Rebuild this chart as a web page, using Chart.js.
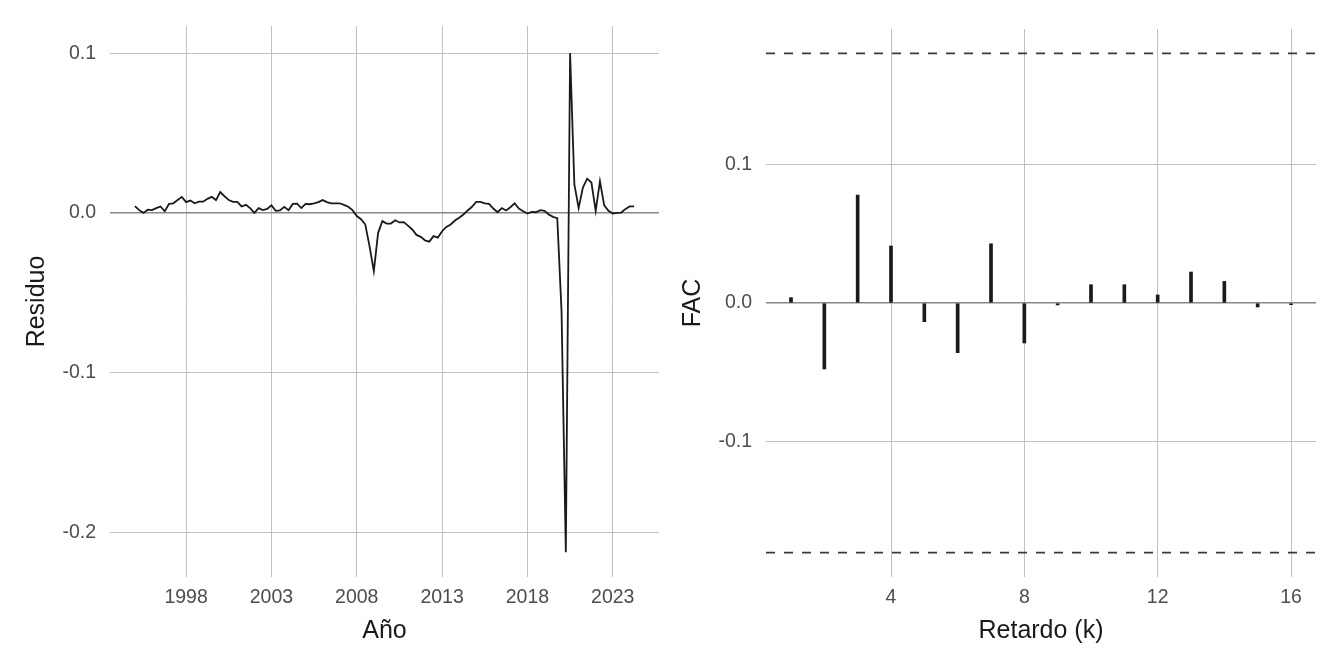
<!DOCTYPE html>
<html>
<head>
<meta charset="utf-8">
<script src="https://cdn.jsdelivr.net/npm/chart.js@4.4.1/dist/chart.umd.min.js"></script>
<style>
  body { margin: 0; background: #ffffff; }
  .panel { position: absolute; top: 0; width: 672px; height: 672px; }
</style>
</head>
<body>
<div class="panel" style="left:0"><canvas id="residuos" width="672" height="672"></canvas></div>
<div class="panel" style="left:672px"><canvas id="fac" width="672" height="672"></canvas></div>
<script>
// residuos trimestrales, desde 1995 T1
var inicio = 1995;
var residuo = [
  0.0042, 0.0017, 0.0000, 0.0020, 0.0017, 0.0030, 0.0040, 0.0010, 0.0056, 0.0060,
  0.0080, 0.0100, 0.0067, 0.0077, 0.0060, 0.0070, 0.0070, 0.0088, 0.0100, 0.0080,
  0.0130, 0.0104, 0.0080, 0.0069, 0.0069, 0.0040, 0.0050, 0.0030, 0.0000, 0.0030,
  0.0017, 0.0025, 0.0048, 0.0013, 0.0015, 0.0038, 0.0017, 0.0056, 0.0058, 0.0030,
  0.0056, 0.0054, 0.0060, 0.0067, 0.0080, 0.0067, 0.0060, 0.0060, 0.0060, 0.0050,
  0.0038, 0.0017, -0.0020, -0.0040, -0.0073, -0.0210, -0.0365, -0.0125, -0.0052, -0.0067,
  -0.0067, -0.0046, -0.0060, -0.0058, -0.0080, -0.0104, -0.0138, -0.0150, -0.0173, -0.0180,
  -0.0146, -0.0155, -0.0115, -0.0088, -0.0073, -0.0048, -0.0030, -0.0010, 0.0015, 0.0038,
  0.0069, 0.0069, 0.0060, 0.0056, 0.0027, 0.0004, 0.0030, 0.0015, 0.0035, 0.0060,
  0.0027, 0.0010, -0.0004, 0.0006, 0.0004, 0.0017, 0.0013, -0.0010, -0.0025, -0.0033,
  -0.0620, -0.2125, 0.1000, 0.0180, 0.0030, 0.0158, 0.0214, 0.0190, 0.0013, 0.0198,
  0.0047, 0.0013, -0.0004, 0.0000, 0.0002, 0.0025, 0.0040, 0.0040
];
var anios = [1998, 2003, 2008, 2013, 2018, 2023];
var ticksResiduo = [-0.2, -0.1, 0.0, 0.1];

// funcion de autocorrelacion
var retardos = [1, 2, 3, 4, 5, 6, 7, 8, 9, 10, 11, 12, 13, 14, 15, 16];
var fac = [0.0039, -0.0477, 0.0780, 0.0412, -0.0135, -0.0359, 0.0428, -0.0289,
           -0.0014, 0.0132, 0.0132, 0.0058, 0.0224, 0.0156, -0.0029, -0.0012];
var limite = 0.1804;
var ticksRetardo = [4, 8, 12, 16];
var ticksFac = [-0.1, 0.0, 0.1];

var fuente = '"Liberation Sans", Arial, Helvetica, sans-serif';
var gris = '#c0c0c0';
var grisCero = '#888888';
var tamTick = 19.5;
var tamTitulo = 25;

function gridCero(ctx) {
    return ctx.tick && ctx.tick.value === 0 ? grisCero : gris;
}
function anchoCero(ctx) {
    return ctx.tick && ctx.tick.value === 0 ? 1.5 : 1;
}
function fijarTicks(lista) {
    return function (scale) {
        scale.ticks = lista.map(v => ({ value: v }));
    };
}

function crearResiduos() {
    var ctx = document.getElementById('residuos').getContext('2d');
    new Chart(ctx, {
        type: 'line',
        data: {
            datasets: [{
                data: residuo.map((r, i) => ({ x: inicio + i / 4, y: r })),
                borderColor: '#1a1a1a',
                borderWidth: 1.8,
                pointRadius: 0,
                tension: 0
            }]
        },
        options: {
            responsive: false,
            animation: false,
            layout: { padding: { top: 26, right: 13, bottom: 0, left: 0 } },
            plugins: { legend: { display: false }, tooltip: { enabled: false } },
            scales: {
                x: {
                    type: 'linear',
                    min: 1993.54,
                    max: 2025.71,
                    afterBuildTicks: fijarTicks(anios),
                    afterFit: function (s) { s.height = 95; },
                    grid: { color: gris, lineWidth: 1, drawTicks: false },
                    border: { display: false },
                    ticks: { padding: 9, color: '#4d4d4d', font: { family: fuente, size: tamTick }, maxRotation: 0,
                             callback: v => String(v) },
                    title: { display: true, text: 'Año', color: '#1a1a1a', font: { family: fuente, size: tamTitulo },
                             padding: { top: 0, bottom: 26 } }
                },
                y: {
                    min: -0.228,
                    max: 0.117,
                    afterBuildTicks: fijarTicks(ticksResiduo),
                    afterFit: function (s) { s.width = 110; },
                    grid: { color: gridCero, lineWidth: anchoCero, drawTicks: false },
                    border: { display: false },
                    ticks: { padding: 14, color: '#4d4d4d', font: { family: fuente, size: tamTick },
                             callback: v => v.toFixed(1) },
                    title: { display: true, text: 'Residuo', color: '#1a1a1a', font: { family: fuente, size: tamTitulo },
                             padding: { top: 22, bottom: 0 } }
                }
            }
        }
    });
}

function crearFac() {
    var ctx = document.getElementById('fac').getContext('2d');
    var xMin = 0.25, xMax = 16.75;
    new Chart(ctx, {
        type: 'bar',
        data: {
            datasets: [{
                type: 'line',
                data: [{ x: xMin, y: limite }, { x: xMax, y: limite }],
                borderColor: '#3a3a3a',
                borderWidth: 1.6,
                borderDash: [9, 9],
                pointRadius: 0
            }, {
                type: 'line',
                data: [{ x: xMin, y: -limite }, { x: xMax, y: -limite }],
                borderColor: '#3a3a3a',
                borderWidth: 1.6,
                borderDash: [9, 9],
                pointRadius: 0
            }, {
                type: 'bar',
                data: retardos.map((k, i) => ({ x: k, y: fac[i] })),
                backgroundColor: '#1a1a1a',
                barThickness: 3
            }]
        },
        options: {
            responsive: false,
            animation: false,
            layout: { padding: { top: 29, right: 28, bottom: 0, left: 0 } },
            plugins: { legend: { display: false }, tooltip: { enabled: false } },
            scales: {
                x: {
                    type: 'linear',
                    min: xMin,
                    max: xMax,
                    offset: false,
                    afterBuildTicks: fijarTicks(ticksRetardo),
                    afterFit: function (s) { s.height = 95; },
                    grid: { color: gris, lineWidth: 1, drawTicks: false, offset: false },
                    border: { display: false },
                    ticks: { padding: 9, color: '#4d4d4d', font: { family: fuente, size: tamTick }, maxRotation: 0 },
                    title: { display: true, text: 'Retardo (k)', color: '#1a1a1a', font: { family: fuente, size: tamTitulo },
                             padding: { top: 0, bottom: 26 } }
                },
                y: {
                    min: -0.198,
                    max: 0.198,
                    afterBuildTicks: fijarTicks(ticksFac),
                    afterFit: function (s) { s.width = 94; },
                    grid: { color: gridCero, lineWidth: anchoCero, drawTicks: false },
                    border: { display: false },
                    ticks: { padding: 14, color: '#4d4d4d', font: { family: fuente, size: tamTick },
                             callback: v => v.toFixed(1) },
                    title: { display: true, text: 'FAC', color: '#1a1a1a', font: { family: fuente, size: tamTitulo },
                             padding: { top: 6, bottom: 0 } }
                }
            }
        }
    });
}

crearResiduos();
crearFac();
</script>
</body>
</html>
